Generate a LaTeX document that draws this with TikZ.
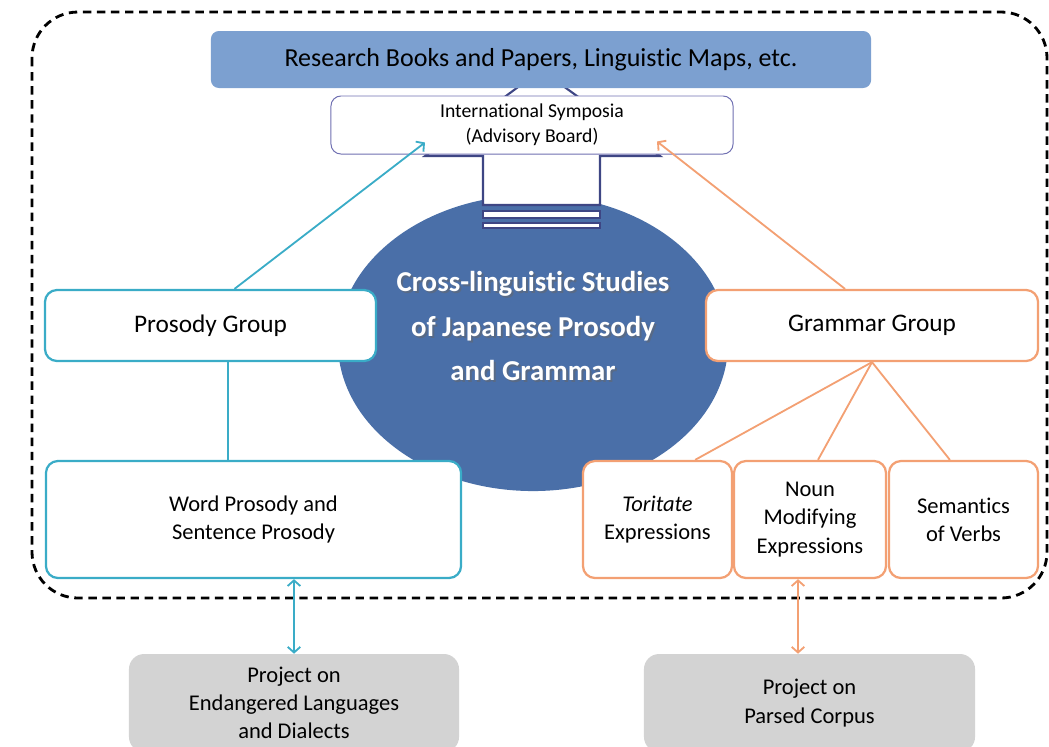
\documentclass[tikz,border=0pt]{standalone}
\usepackage{fontspec}
\setmainfont{Carlito}[Ligatures={NoCommon,TeX}]
\usetikzlibrary{arrows.meta,calc}

\definecolor{tealline}{RGB}{58,172,199}
\definecolor{orangeline}{RGB}{243,160,115}
\definecolor{topblue}{RGB}{124,160,208}
\definecolor{ellblue}{RGB}{74,111,168}
\definecolor{navyline}{RGB}{62,70,132}
\definecolor{sympline}{RGB}{112,112,178}
\definecolor{projgray}{RGB}{211,211,211}

\newcommand\boxfont{\fontsize{16}{20}\selectfont}
\newcommand\groupfont{\fontsize{18}{22}\selectfont}

\tikzset{
	tealbox/.style={draw=tealline, line width=1.6pt, fill=white, rounded corners=0.3cm, align=center, inner sep=0pt},
	orangebox/.style={draw=orangeline, line width=1.6pt, fill=white, rounded corners=0.3cm, align=center, inner sep=0pt},
	projbox/.style={fill=projgray, rounded corners=0.38cm, align=center, inner sep=0pt, font=\boxfont},
	tealarrow/.style={draw=tealline, line width=1.3pt, -{Straight Barb[length=4pt,width=9pt]}},
	orangearrow/.style={draw=orangeline, line width=1.3pt, -{Straight Barb[length=4pt,width=9pt]}},
	tealboth/.style={draw=tealline, line width=1.3pt, {Straight Barb[length=4pt,width=9pt]}-{Straight Barb[length=4pt,width=9pt]}},
	orangeboth/.style={draw=orangeline, line width=1.3pt, {Straight Barb[length=4pt,width=9pt]}-{Straight Barb[length=4pt,width=9pt]}}
}

\begin{document}
\begin{tikzpicture}[x=0.025cm, y=-0.025cm]
			%%%%% START %%%%%
			
			\useasboundingbox (0, 0) rectangle (1049, 746);
			\clip (0, 0) rectangle (1049, 746);
			
			% dashed frame
			\draw[line width=2pt, dash pattern=on 6pt off 4pt, rounded corners=1.15cm] (32, 12) rectangle (1047, 598);
			
			% centre ellipse
			\fill[ellblue] (533, 343) ellipse (4.875cm and 3.7cm);
			
			% big arrow up to the symposia
			\draw[navyline, line width=1.5pt, fill=white] (541, 70) -- (660, 156) -- (600, 156) -- (600, 205) -- (483, 205) -- (483, 156) -- (425, 156) -- cycle;
			\draw[navyline, line width=1.5pt, fill=white] (483, 211) rectangle (600, 218);
			\draw[navyline, line width=1.5pt, fill=white] (483, 223) rectangle (600, 228);
			
			\node[text=black!60, opacity=0.5, font=\bfseries\fontsize{20.5}{31.7}\selectfont, align=center] (titleshadow) at (535, 328) {Cross-linguistic Studies\\of Japanese Prosody\\and Grammar};
			\node[text=white, font=\bfseries\fontsize{20.5}{31.7}\selectfont, align=center] (title) at (533, 326) {Cross-linguistic Studies\\of Japanese Prosody\\and Grammar};
			
			% top boxes
			\node[fill=topblue, rounded corners=0.2cm, minimum width=16.5cm, minimum height=1.425cm, inner sep=0pt, font=\fontsize{18.5}{22}\selectfont] (books) at (541, 59.5) {Research Books and Papers, Linguistic Maps, etc.};
			\node[draw=sympline, line width=0.7pt, fill=white, rounded corners=0.25cm, minimum width=10.05cm, minimum height=1.45cm, inner sep=0pt, align=center, font=\fontsize{14}{17.5}\selectfont] (symp) at (532, 125) {International Symposia\\(Advisory Board)};
			
			% groups
			\node[tealbox, minimum width=8.275cm, minimum height=1.775cm, font=\groupfont] (pgroup) at (210.5, 325.5) {Prosody Group};
			\node[orangebox, minimum width=8.3cm, minimum height=1.775cm, font=\groupfont] (ggroup) at (872, 325.5) {Grammar Group};
			
			\node[tealbox, minimum width=10.375cm, minimum height=2.925cm, font=\boxfont] (wpros) at (253.5, 519.5) {Word Prosody and\\Sentence Prosody};
			\node[orangebox, minimum width=3.725cm, minimum height=2.925cm, font=\boxfont] (torit) at (657.5, 519.5) {\textit{Toritate}\\Expressions};
			\node[orangebox, minimum width=3.8cm, minimum height=2.925cm, font=\boxfont] (noun) at (810, 519.5) {Noun\\Modifying\\Expressions};
			\node[orangebox, minimum width=3.725cm, minimum height=2.925cm, font=\boxfont] (verbs) at (963.5, 519.5) {Semantics\\of Verbs};
			
			% projects
			\node[projbox, minimum width=8.25cm, minimum height=2.45cm] (endang) at (294, 703) {Project on\\Endangered Languages\\and Dialects};
			\node[projbox, minimum width=8.275cm, minimum height=2.45cm] (corpus) at (809.5, 703) {Project on\\Parsed Corpus};
			
			% connectors
			\draw[tealarrow] ([xshift=0.6cm]pgroup.north) -- ([xshift=-2.675cm, yshift=0.3cm]symp.south);
			\draw[orangearrow] ([xshift=-0.675cm]ggroup.north) -- ([xshift=3.125cm, yshift=0.325cm]symp.south);
			
			\draw[tealline, line width=1.3pt] ([xshift=0.44cm]pgroup.south) -- ([xshift=0.44cm]pgroup.south |- wpros.north);
			\draw[orangeline, line width=1.3pt] (ggroup.south) -- ([xshift=0.94cm]torit.north);
			\draw[orangeline, line width=1.3pt] (ggroup.south) -- ([xshift=0.2cm]noun.north);
			\draw[orangeline, line width=1.3pt] (ggroup.south) -- ([xshift=-0.34cm]verbs.north);
			
			\draw[tealboth] (endang.north |- wpros.south) -- (endang.north);
			\draw[orangeboth] ([xshift=-0.3cm]noun.south) -- ([xshift=-0.3cm]noun.south |- corpus.north);
			
			%%%%% END %%%%%
		\end{tikzpicture}
\end{document}
